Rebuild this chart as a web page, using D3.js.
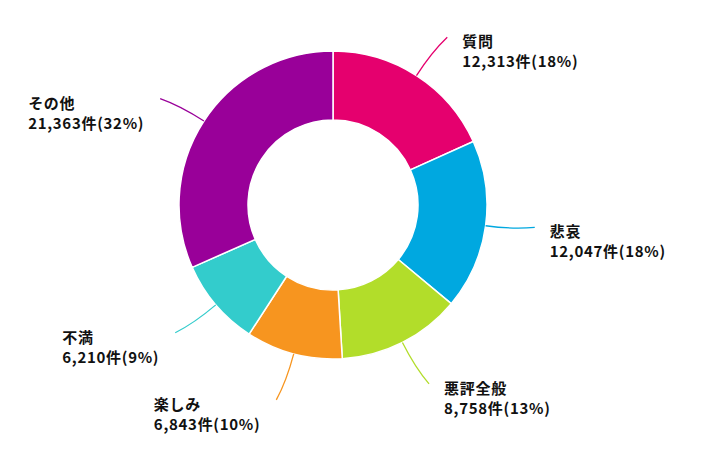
<!DOCTYPE html>
<html>
<head>
<meta charset="utf-8">
<script src="https://cdn.jsdelivr.net/npm/d3@7"></script>
<style>
body { margin: 0; background: #fff; }
text { font-family: "Noto Sans CJK JP", "Noto Sans", sans-serif; font-weight: bold; font-size: 15px; letter-spacing: 0.7px; fill: #111; }
</style>
</head>
<body>
<svg width="704" height="450"></svg>
<script>
var categories = ["質問", "悲哀", "悪評全般", "楽しみ", "不満", "その他"];
var counts = [12313, 12047, 8758, 6843, 6210, 21363];
var percents = [18, 18, 13, 10, 9, 32];
var colors = ["#e5006e", "#00a8e0", "#b2dd2a", "#f7951f", "#33cccc", "#990099"];

var svg = d3.select("svg"),
    cx = 333, cy = 205,
    outer = 154, inner = 85,
    g = svg.append("g").attr("transform", "translate(" + cx + "," + cy + ")");

var data = categories.map(function(c, i) {
  return {name: c, value: counts[i], pct: percents[i], color: colors[i]};
});

var pie = d3.pie().sort(null).value(function(d) { return d.value; });
var arc = d3.arc().innerRadius(inner).outerRadius(outer);
var arcs = pie(data);

g.selectAll("path.slice")
    .data(arcs)
  .enter().append("path")
    .attr("class", "slice")
    .attr("d", arc)
    .attr("fill", function(d) { return d.data.color; })
    .attr("stroke", "#fff")
    .attr("stroke-width", 1.5);

function pt(r, a) { return [r * Math.sin(a), -r * Math.cos(a)]; }
var fmt = d3.format(",");

arcs.forEach(function(d) {
  var a = (d.startAngle + d.endAngle) / 2;
  var right = Math.sin(a) >= 0;
  // bend the end of the leader towards horizontal
  var target = right ? Math.PI / 2 : Math.PI * 1.5;
  var shift = (target - a) > 0 ? 0.025 : -0.025;
  var s = pt(outer, a), c = pt(182, a), e = pt(203, a + shift);

  var p = d3.path();
  p.moveTo(s[0], s[1]);
  p.quadraticCurveTo(c[0], c[1], e[0], e[1]);
  g.append("path")
      .attr("d", p.toString())
      .attr("fill", "none")
      .attr("stroke", d.data.color)
      .attr("stroke-width", 1.3);

  var lab = g.append("g");
  lab.append("text").attr("y", 10).text(d.data.name);
  lab.append("text").attr("y", 30).text(fmt(d.data.value) + "件(" + d.data.pct + "%)");
  var w = 0;
  lab.selectAll("text").each(function() { w = Math.max(w, this.getComputedTextLength()); });
  var lx = right ? e[0] + 15 : e[0] - 16 - w;
  lab.attr("transform", "translate(" + lx + "," + e[1] + ")");
});
</script>
</body>
</html>
